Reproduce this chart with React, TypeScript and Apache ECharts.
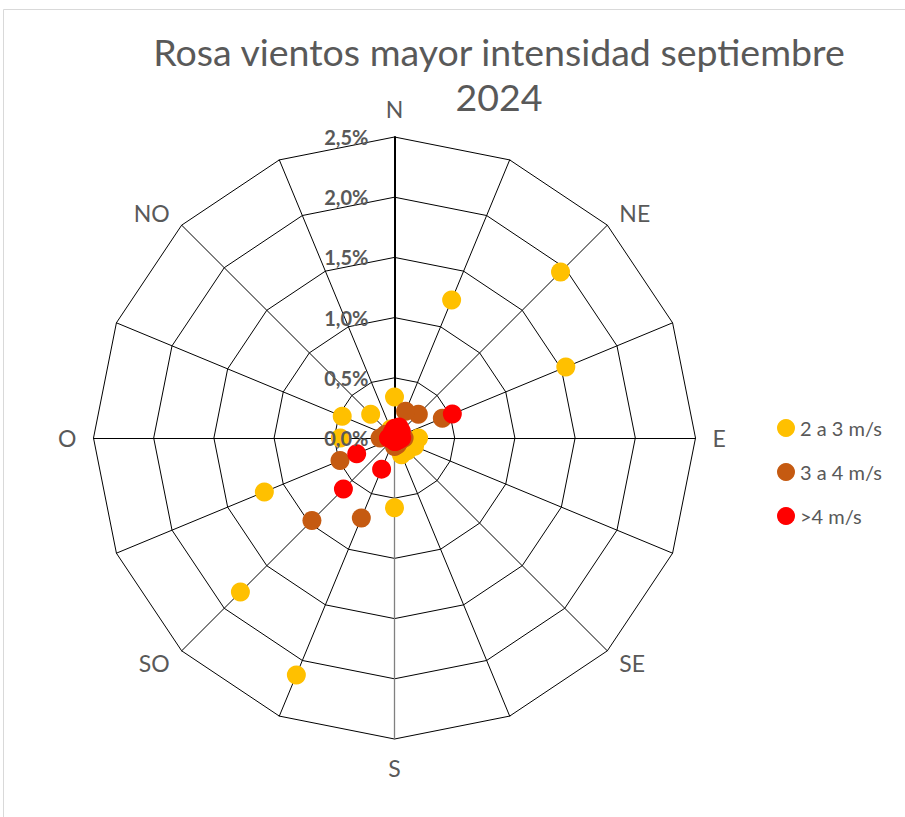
import React, { useEffect, useRef } from 'react';
import * as echarts from 'echarts';

// Directions clockwise from North (Spanish abbreviations)
const directions = ['N', 'NNE', 'NE', 'ENE', 'E', 'ESE', 'SE', 'SSE', 'S', 'SSO', 'SO', 'OSO', 'O', 'ONO', 'NO', 'NNO'];
const shownDirections = ['N', 'NE', 'E', 'SE', 'S', 'SO', 'O', 'NO'];
const seriesNames = ['2 a 3 m/s', '3 a 4 m/s', '>4 m/s'];
const seriesColors = ['#FFC000', '#C55A11', '#FF0000'];

// Percent frequency per direction (clockwise from N)
const v2a3 = [0.34, 1.24, 1.95, 1.54, 0.2, 0.18, 0.15, 0.15, 0.58, 2.13, 1.81, 1.17, 0.45, 0.47, 0.28, 0.08];
const v3a4 = [0.05, 0.24, 0.28, 0.43, 0.08, 0.05, 0.05, 0.06, 0.07, 0.72, 0.97, 0.49, 0.12, 0.08, 0.05, 0.04];
const vMas4 = [0.08, 0.1, 0.08, 0.52, 0.06, 0.04, 0.03, 0.03, 0.03, 0.28, 0.6, 0.34, 0.05, 0.03, 0.03, 0.05];

const radialMax = 2.5;
const radialSplits = 5;

const TEXT = '#595959';
const FONT = 'Lato, "Open Sans", sans-serif';
const CENTER = [394.5, 438];
const RADIUS = 301;

export default function App() {
  const ref = useRef<HTMLDivElement>(null);
  useEffect(() => {
    if (!ref.current) return;
    const chart = echarts.init(ref.current, undefined, { renderer: 'svg' });
    // ECharts radar runs counter-clockwise; reorder so directions run clockwise
    const order = [0, ...directions.map((_, i) => i).slice(1).reverse()];
    const indicator = order.map((i) => {
      const ind: any = { name: directions[i], min: 0, max: radialMax };
      if (i === 0) {
        ind.axisLine = { lineStyle: { width: 2, color: '#000' } };
      }
      if (i === 8) {
        ind.axisLine = { lineStyle: { width: 1.3, color: '#808080' } };
      }
      return ind;
    });
    // overlay radar carrying only the value labels of the N axis (drawn above markers)
    const labelIndicator = order.map((i) => {
      const ind: any = { name: '', min: 0, max: radialMax };
      if (i === 0) {
        ind.axisLabel = {
          show: true,
          color: TEXT,
          fontWeight: 'bold',
          fontSize: 20,
          fontFamily: FONT,
          margin: 26,
          formatter: (v: number) => v.toFixed(1).replace('.', ',') + '%',
        };
      }
      return ind;
    });
    const datasets = [v2a3, v3a4, vMas4];
    chart.setOption({
      animation: false,
      textStyle: { fontFamily: FONT },
      title: {
        text: 'Rosa vientos mayor intensidad septiembre\n2024',
        left: 494,
        top: 24,
        textAlign: 'center',
        textStyle: { color: TEXT, fontSize: 37.5, fontWeight: 'normal', fontFamily: FONT, lineHeight: 45 },
      },
      legend: {
        orient: 'vertical',
        left: 772,
        top: 413,
        icon: 'circle',
        itemWidth: 18,
        itemHeight: 18,
        itemGap: 24,
        data: seriesNames,
        textStyle: { color: TEXT, fontSize: 20, fontFamily: FONT },
      },
      graphic: [
        {
          type: 'rect',
          shape: { x: 3.5, y: 9.5, width: 920, height: 830 },
          style: { fill: 'none', stroke: '#d9d9d9', lineWidth: 1 },
          silent: true,
        },
      ],
      radar: [
        {
          center: CENTER,
          radius: RADIUS,
          startAngle: 90,
          shape: 'polygon',
          splitNumber: radialSplits,
          indicator,
          axisName: {
            color: TEXT,
            fontSize: 23,
            fontFamily: FONT,
            formatter: (name: string) => (shownDirections.includes(name) ? name : ''),
          },
          nameGap: 17,
          axisLine: { show: true, lineStyle: { color: '#000', width: 1 } },
          splitLine: { show: true, lineStyle: { color: '#000', width: 1 } },
          splitArea: { show: false },
          axisTick: { show: false },
          axisLabel: { show: false },
        },
        {
          center: CENTER,
          radius: RADIUS,
          startAngle: 90,
          shape: 'polygon',
          splitNumber: radialSplits,
          indicator: labelIndicator,
          z: 10,
          axisName: { show: false },
          axisLine: { show: false },
          splitLine: { show: false },
          splitArea: { show: false },
          axisTick: { show: false },
          axisLabel: { show: false },
        },
      ],
      series: seriesNames.map((name, s) => ({
        type: 'radar',
        radarIndex: 0,
        name,
        symbol: 'circle',
        symbolSize: 19,
        itemStyle: { color: seriesColors[s], opacity: 1 },
        lineStyle: { width: 0, opacity: 0 },
        z: 2 + s,
        data: [{ name, value: order.map((i) => datasets[s][i]) }],
      })),
    });
    return () => chart.dispose();
  }, []);
  return (
    <div
      ref={ref}
      style={{ position: 'fixed', left: 0, top: 0, width: 905, height: 817, background: '#fff' }}
    />
  );
}
